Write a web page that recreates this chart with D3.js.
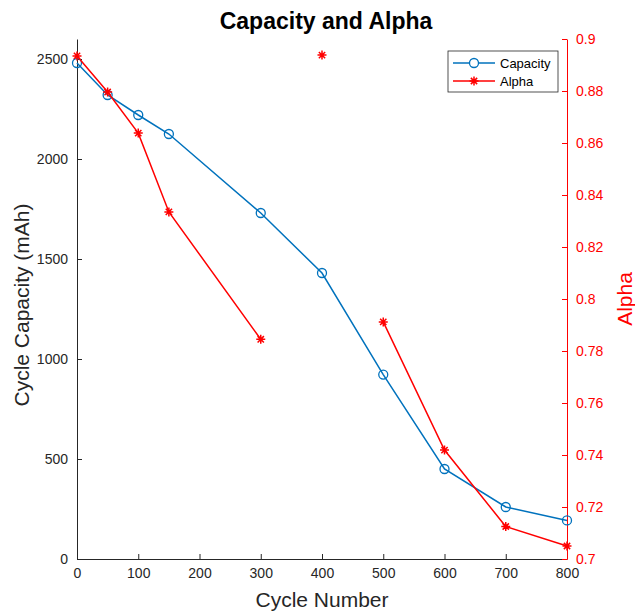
<!DOCTYPE html>
<html>
<head>
<meta charset="utf-8">
<script src="https://cdn.jsdelivr.net/npm/d3@7"></script>
<style>
  body { margin: 0; background: #fff; }
  text { font-family: "Liberation Sans", Arial, sans-serif; }
</style>
</head>
<body>
<div id="chart"></div>
<script>
const cycles = [0, 50, 100, 150, 300, 400, 500, 600, 700, 800]
const capacity = [2480, 2320, 2220, 2125, 1730, 1430, 922, 450, 260, 193]
// alpha has gaps (NaN) around the 400 cycle point
const alphaCycles = [0, 50, 100, 150, 300, 350, 400, 450, 500, 600, 700, 800]
const alpha = [0.8935, 0.8796, 0.8638, 0.8335, 0.7845, null, 0.8938, null, 0.7912, 0.7419, 0.7125, 0.7050]
const xTicks = [0, 100, 200, 300, 400, 500, 600, 700, 800]
const yTicks = [0, 500, 1000, 1500, 2000, 2500]
const alphaTicks = [0.7, 0.72, 0.74, 0.76, 0.78, 0.8, 0.82, 0.84, 0.86, 0.88, 0.9]

const width = 635, height = 612
const margin = { left: 77, top: 39, right: 68, bottom: 53 }
const w = width - margin.left - margin.right
const h = height - margin.top - margin.bottom
const blue = "#0072BD", red = "#FF0000", axisGray = "#262626"

const svg = d3.select("#chart").append("svg")
  .attr("width", width).attr("height", height)

const x = d3.scaleLinear().domain([0, 800]).range([0, w])
const y = d3.scaleLinear().domain([0, 2600]).range([h, 0])
const yA = d3.scaleLinear().domain([0.7, 0.9]).range([h, 0])

const g = svg.append("g").attr("transform", `translate(${margin.left}, ${margin.top})`)

// axes (MATLAB-style inward ticks)
const xAxis = g.append("g").attr("transform", `translate(0, ${h})`)
  .call(d3.axisBottom(x).tickValues(xTicks).tickSizeInner(-5).tickSizeOuter(0).tickPadding(9))
xAxis.select(".domain").attr("stroke", axisGray)
xAxis.selectAll(".tick line").attr("stroke", axisGray)
xAxis.selectAll("text").attr("fill", axisGray).style("font-size", "14px")

const yAxis = g.append("g")
  .call(d3.axisLeft(y).tickValues(yTicks).tickFormat(d3.format("d")).tickSizeInner(-5).tickSizeOuter(0).tickPadding(9))
yAxis.select(".domain").attr("stroke", axisGray)
yAxis.selectAll(".tick line").attr("stroke", axisGray)
yAxis.selectAll("text").attr("fill", axisGray).style("font-size", "14px")

const aAxis = g.append("g").attr("transform", `translate(${w}, 0)`)
  .call(d3.axisRight(yA).tickValues(alphaTicks).tickFormat(d3.format("~g")).tickSizeInner(-5).tickSizeOuter(0).tickPadding(9))
aAxis.select(".domain").attr("stroke", red)
aAxis.selectAll(".tick line").attr("stroke", red)
aAxis.selectAll("text").attr("fill", red).style("font-size", "14px")

// capacity line
const capData = cycles.map((c, i) => ({ x: c, y: capacity[i] }))
g.append("path").datum(capData)
  .attr("fill", "none").attr("stroke", blue).attr("stroke-width", 1.5)
  .attr("d", d3.line().x(d => x(d.x)).y(d => y(d.y)))
g.selectAll(".cap").data(capData).join("circle")
  .attr("cx", d => x(d.x)).attr("cy", d => y(d.y)).attr("r", 4.5)
  .attr("fill", "none").attr("stroke", blue).attr("stroke-width", 1.3)

// alpha line
const alphaData = alphaCycles.map((c, i) => ({ x: c, y: alpha[i] }))
g.append("path").datum(alphaData)
  .attr("fill", "none").attr("stroke", red).attr("stroke-width", 1.5)
  .attr("d", d3.line().defined(d => d.y != null).x(d => x(d.x)).y(d => yA(d.y)))

const star = (s) => {
  const d = s * 0.7
  return `M${-s},0L${s},0M0,${-s}L0,${s}M${-d},${-d}L${d},${d}M${-d},${d}L${d},${-d}`
}
g.selectAll(".alpha").data(alphaData.filter(d => d.y != null)).join("path")
  .attr("transform", d => `translate(${x(d.x)}, ${yA(d.y)})`)
  .attr("d", star(4.5)).attr("stroke", red).attr("stroke-width", 1.5).attr("fill", "none")

// labels
svg.append("text").attr("x", 326).attr("y", 29)
  .attr("text-anchor", "middle").style("font-size", "23px").style("font-weight", "bold")
  .attr("fill", "#000").text("Capacity and Alpha")
svg.append("text").attr("x", margin.left + w / 2).attr("y", 607)
  .attr("text-anchor", "middle").style("font-size", "21px").attr("fill", axisGray)
  .text("Cycle Number")
svg.append("text").attr("transform", `translate(29, ${margin.top + h / 2 + 6}) rotate(-90)`)
  .attr("text-anchor", "middle").style("font-size", "21px").attr("fill", axisGray)
  .text("Cycle Capacity (mAh)")
svg.append("text").attr("transform", `translate(632, ${margin.top + h / 2}) rotate(-90)`)
  .attr("text-anchor", "middle").style("font-size", "21px").attr("fill", red)
  .text("Alpha")

// legend
const leg = svg.append("g").attr("transform", "translate(448, 51)")
leg.append("rect").attr("width", 110).attr("height", 41)
  .attr("fill", "#fff").attr("stroke", axisGray).attr("stroke-width", 0.8)
const legItems = [
  { name: "Capacity", color: blue, mark: "circle" },
  { name: "Alpha", color: red, mark: "star" }
]
legItems.forEach((it, i) => {
  const yy = 12 + i * 18
  leg.append("line").attr("x1", 5).attr("x2", 47).attr("y1", yy).attr("y2", yy)
    .attr("stroke", it.color).attr("stroke-width", 1.5)
  if (it.mark === "circle") {
    leg.append("circle").attr("cx", 26).attr("cy", yy).attr("r", 4.5)
      .attr("fill", "#fff").attr("stroke", it.color).attr("stroke-width", 1.3)
  } else {
    leg.append("path").attr("transform", `translate(26, ${yy})`).attr("d", star(4.5))
      .attr("stroke", it.color).attr("stroke-width", 1.5)
  }
  leg.append("text").attr("x", 52).attr("y", yy + 4.5).style("font-size", "13px")
    .attr("fill", "#000").text(it.name)
})
</script>
</body>
</html>
